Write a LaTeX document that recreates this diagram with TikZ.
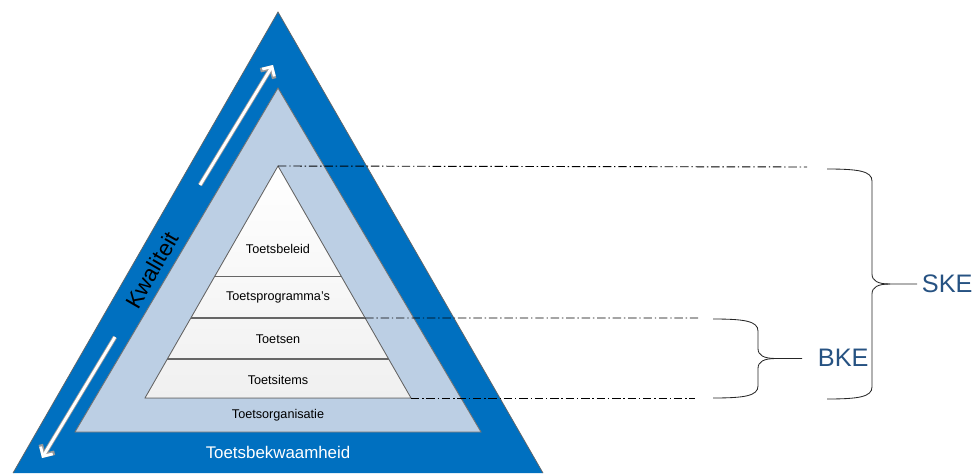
\documentclass[tikz,border=0pt]{standalone}
\usepackage{fontspec}
\setmainfont{Liberation Sans}
\usetikzlibrary{arrows.meta, calc}

\definecolor{kwblue}{RGB}{0,112,192}
\definecolor{kwlight}{RGB}{188,207,228}
\definecolor{kwlayer}{RGB}{240,240,240}
\definecolor{kwtext}{RGB}{38,82,130}

% curly bracket: left x, stem x, tip x, top y, bottom y
\newcommand{\kwbrace}[5]{%
  \draw[bracket] (#1,#4) .. controls ({#2-14},#4) and (#2,{#4+2}) .. (#2,{#4+12})
    -- (#2,{(#4+#5)/2-10}) .. controls (#2,{(#4+#5)/2-3}) and ({#2+6},{(#4+#5)/2}) .. ({#2+18},{(#4+#5)/2})
    -- (#3,{(#4+#5)/2});
  \draw[bracket] ({#2+18},{(#4+#5)/2}) .. controls ({#2+6},{(#4+#5)/2}) and (#2,{(#4+#5)/2+3}) .. (#2,{(#4+#5)/2+10})
    -- (#2,{#5-12}) .. controls (#2,{#5-2}) and ({#2-14},#5) .. (#1,#5);
}

\begin{document}
\begin{tikzpicture}[x=0.025cm, y=-0.025cm,
  layer/.style={font=\fontsize{9}{10}\selectfont, text=black},
  dashdot/.style={line width=0.65pt, black, dash pattern=on 6pt off 2pt on 1pt off 2pt},
  bracket/.style={line width=0.6pt, black!85},
  kwarrow/.style={white, line width=2pt, -{Straight Barb[length=5pt, width=10pt]},
    preaction={draw=black!40, line width=3.2pt, -{Straight Barb[length=5.6pt, width=11.5pt]}}},
  label/.style={font=\fontsize{18}{20}\selectfont, text=kwtext, anchor=west}]

\useasboundingbox (0,0) rectangle (978,473);

% triangles
\fill[kwblue] (278,12) -- (543,473) -- (13,473) -- cycle;
\draw[black!60, line width=0.5pt] (13,473) -- (278,12) -- (543,473);
\filldraw[fill=kwlight, draw=black!55, line width=0.6pt] (278,88) -- (481,432) -- (75,432) -- cycle;

% pyramid
\coordinate (apex) at (278,166);
\coordinate (bl) at (145,398);
\coordinate (br) at (411,398);
\filldraw[top color=white, bottom color=kwlayer, draw=black!60, line width=0.6pt] (apex) -- (br) -- (bl) -- cycle;
\foreach \t/\n in {0.478/1, 0.655/2, 0.832/3} {
  \coordinate (l\n) at ($(apex)!\t!(bl)$);
  \coordinate (r\n) at ($(apex)!\t!(br)$);
  \draw[black!60, line width=0.8pt] (l\n) -- (r\n);
}

\node[layer] (beleid) at (278,249) {Toetsbeleid};
\node[layer] (programma) at (278,297) {Toetsprogramma’s};
\node[layer] (toetsen) at (278,339) {Toetsen};
\node[layer] (items) at (278,380) {Toetsitems};
\node[layer] (organisatie) at (278,415) {Toetsorganisatie};
\node[font=\fontsize{12}{14}\selectfont, text=white] (bekwaam) at (278,452) {Toetsbekwaamheid};
\node[font=\fontsize{16}{18}\selectfont, rotate=60] (kwaliteit) at (152,270) {Kwaliteit};

% arrows along the edge
\coordinate (upA) at (200,185);
\coordinate (upB) at (273,65);
\coordinate (downA) at (115,337);
\coordinate (downB) at (42,458);
\draw[kwarrow] (upA) -- (upB);
\draw[kwarrow] (downA) -- (downB);

% dash-dot guides
\coordinate (dtop) at (807,167);
\coordinate (dmid) at (698,318);
\coordinate (dbot) at (695,398);
\draw[dashdot] (apex) -- (dtop);
\draw[dashdot] (r2) -- (dmid);
\draw[dashdot] (br) -- (dbot);

% brackets
\kwbrace{827}{872}{917}{169}{399}
\kwbrace{713}{758}{802}{319}{398}
\node[label] (ske) at (917,284) {SKE};
\node[label] (bke) at (813,358) {BKE};

\end{tikzpicture}
\end{document}
